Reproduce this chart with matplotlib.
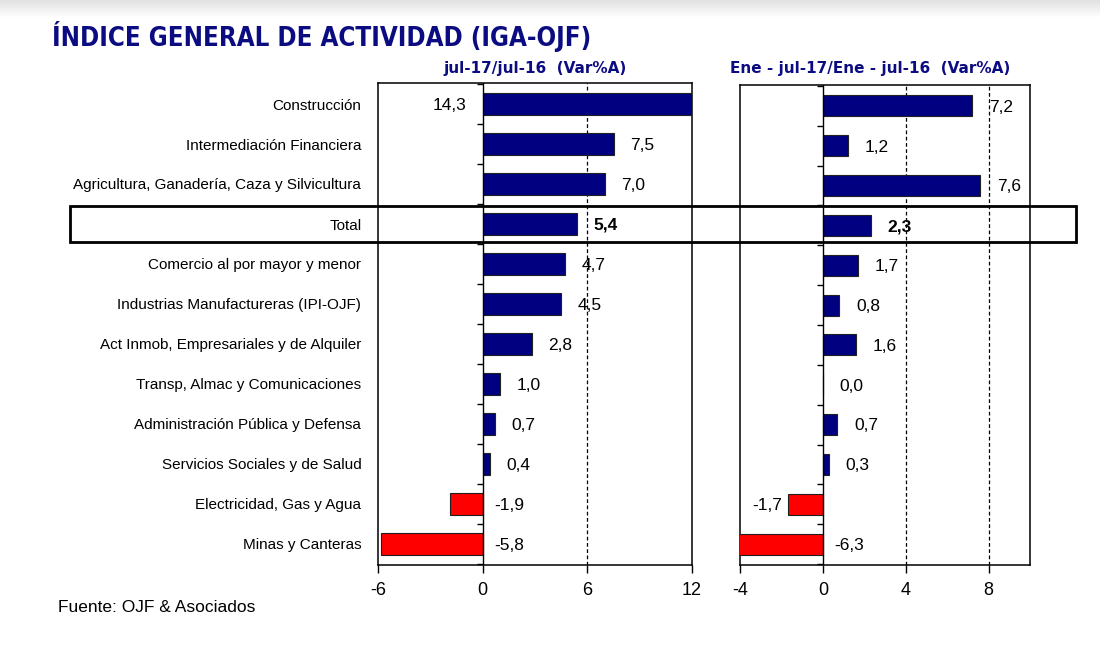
import numpy as np
import matplotlib
matplotlib.use("Agg")
import matplotlib.pyplot as plt
from matplotlib.patches import Rectangle
from matplotlib.transforms import blended_transform_factory
import logging
logging.getLogger('matplotlib.font_manager').setLevel(logging.ERROR)

categories = [
    "Construcción",
    "Intermediación Financiera",
    "Agricultura, Ganadería, Caza y Silvicultura",
    "Total",
    "Comercio al por mayor y menor",
    "Industrias Manufactureras (IPI-OJF)",
    "Act Inmob, Empresariales y de Alquiler",
    "Transp, Almac y Comunicaciones",
    "Administración Pública y Defensa",
    "Servicios Sociales y de Salud",
    "Electricidad, Gas y Agua",
    "Minas y Canteras",
]
jul_values = [14.3, 7.5, 7.0, 5.4, 4.7, 4.5, 2.8, 1.0, 0.7, 0.4, -1.9, -5.8]
ene_jul_values = [7.2, 1.2, 7.6, 2.3, 1.7, 0.8, 1.6, 0.0, 0.7, 0.3, -1.7, -6.3]
left_ticks = [-6, 0, 6, 12]
right_ticks = [-4, 0, 4, 8]
title = "ÍNDICE GENERAL DE ACTIVIDAD (IGA-OJF)"
left_subtitle = "jul-17/jul-16  (Var%A)"
right_subtitle = "Ene - jul-17/Ene - jul-16  (Var%A)"
source = "Fuente: OJF & Asociados"

NAVY = "#000080"
TXT_BLUE = "#0B0B82"
RED = "#FF0000"
NARROW = ['Liberation Sans Narrow', 'Liberation Sans', 'DejaVu Sans']
ARIAL = ['Liberation Sans', 'DejaVu Sans']

W, H = 1100, 650
fig = plt.figure(figsize=(W / 100, H / 100), dpi=100)
fig.patch.set_facecolor("white")

# light gray band at the very top (screenshot border)
gax = fig.add_axes([0, 1 - 18 / H, 1, 18 / H])
grad = np.linspace(0.88, 1.0, 50).reshape(-1, 1)
gax.imshow(grad, aspect="auto", cmap="gray", vmin=0, vmax=1, extent=[0, 1, 0, 1])
gax.axis("off")

def px_rect(x0, x1, y0, y1):
    return [x0 / W, 1 - y1 / H, (x1 - x0) / W, (y1 - y0) / H]

ax1 = fig.add_axes(px_rect(378, 692, 83, 565))
ax2 = fig.add_axes(px_rect(740, 1030, 85, 565))

n = len(categories)
y = np.arange(n)
bounds = np.arange(n + 1) - 0.5

def draw_panel(ax, values, xlim, ticks, grid, neg_mode, show_labels):
    colors = [RED if v < 0 else NAVY for v in values]
    ax.barh(y, values, height=0.53, color=colors, edgecolor="#202020", linewidth=0.8, zorder=3)
    ax.set_xlim(*xlim)
    ax.set_ylim(n - 0.475, -0.525)
    for g in grid:
        ax.axvline(g, color="black", lw=0.9, ls=(0, (3, 2)), zorder=1)
    ax.axvline(0, color="black", lw=1.0, zorder=4)
    ax.plot(np.zeros(n + 1), bounds, ls="none", marker=0, ms=4, mew=1.0, color="black", zorder=4,
            clip_on=False)
    ax.set_xticks(ticks)
    ax.set_xticklabels([str(t) for t in ticks], fontsize=13, family=ARIAL)
    ax.tick_params(axis="x", direction="out", length=6, width=1, pad=6)
    ax.set_yticks(y)
    if show_labels:
        ax.set_yticklabels(categories, fontsize=11, family=NARROW)
        ax.tick_params(axis="y", length=0, pad=12)
    else:
        ax.set_yticks([])
    for s in ax.spines.values():
        s.set_linewidth(1.1)
    for i, v in enumerate(values):
        txt = f"{v:.1f}".replace(".", ",")
        weight = "bold" if categories[i] == "Total" else "normal"
        if v > xlim[1]:
            x, off, ha = 0, -12, "right"
        elif v < 0:
            if neg_mode == "zero" or v < xlim[0]:
                x, off, ha = 0, 8, "left"
            else:
                x, off, ha = v, -4, "right"
        else:
            x, off, ha = v, 12, "left"
        ax.annotate(txt, (x, i), xytext=(off, -1), textcoords="offset points",
                    ha=ha, va="center", fontsize=12.5, family=ARIAL, weight=weight,
                    annotation_clip=False, zorder=5)

draw_panel(ax1, jul_values, (-6, 12), left_ticks, [6], "zero", True)
draw_panel(ax2, ene_jul_values, (-4, 10), right_ticks, [4, 8], "end", False)

# highlighted Total row frame
ti = categories.index("Total")
tr = blended_transform_factory(fig.transFigure, ax1.transData)
fig.add_artist(Rectangle((70 / W, ti - 0.44), (1076 - 70) / W, 0.88, transform=tr,
                         fill=False, edgecolor="black", linewidth=2.0, zorder=10))

fig.text(52 / W, 1 - 36 / H, title, fontsize=18.5, weight="bold", color=TXT_BLUE,
         family=['DejaVu Sans'], stretch="condensed", ha="left", va="center")
fig.text(535 / W, 1 - 68 / H, left_subtitle, fontsize=11, weight="bold", color=TXT_BLUE,
         family=['DejaVu Sans'], ha="center", va="center")
fig.text(870 / W, 1 - 68 / H, right_subtitle, fontsize=11, weight="bold", color=TXT_BLUE,
         family=['DejaVu Sans'], ha="center", va="center")
fig.text(58 / W, 1 - 608 / H, source, fontsize=12.5, family=ARIAL, ha="left", va="center")

fig.savefig("out.png", dpi=100)
